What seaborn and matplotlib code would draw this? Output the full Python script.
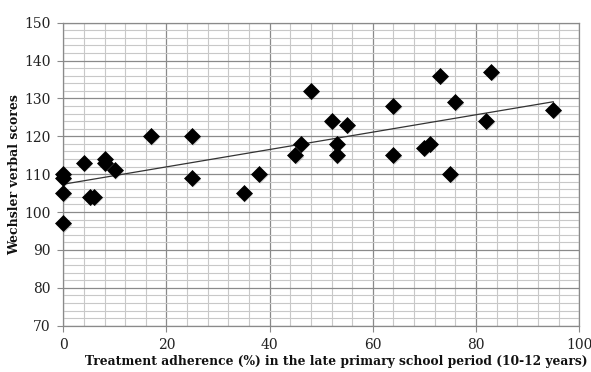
import matplotlib
matplotlib.use("Agg")
import matplotlib.pyplot as plt
import seaborn as sns
import numpy as np
import pandas as pd
from matplotlib.ticker import MultipleLocator

adherence = [0, 0, 0, 0, 4, 5.2, 6, 8, 8, 10, 17, 25, 25, 35, 38, 45, 46, 48, 52,
             53, 53, 55, 64, 64, 70, 71, 73, 75, 76, 82, 83, 95]
verbal = [110, 109, 105, 97, 113, 104, 104, 114, 113, 111, 120, 120, 109, 105, 110,
          115, 118, 132, 124, 118, 115, 123, 128, 115, 117, 118, 136, 110, 129, 124,
          137, 127]
x_ticks = [0, 20, 40, 60, 80, 100]
y_ticks = [70, 80, 90, 100, 110, 120, 130, 140, 150]

df = pd.DataFrame({"x": adherence, "y": verbal})

sns.set_style("white")
fig = plt.figure(figsize=(5.91, 3.72), dpi=100)
ax = fig.add_axes([0.107, 0.1245, 0.873, 0.8145])

ax.set_xlim(0, 100)
ax.set_ylim(70, 150)
ax.xaxis.set_minor_locator(MultipleLocator(4))
ax.yaxis.set_minor_locator(MultipleLocator(2))
ax.set_xticks(x_ticks)
ax.set_yticks(y_ticks)
ax.grid(which="minor", color="#c8c8c8", linewidth=0.8)
ax.grid(which="major", color="#8a8a8a", linewidth=0.9)
ax.set_axisbelow(True)

sns.regplot(data=df, x="x", y="y", scatter=False, ci=None, ax=ax,
            line_kws=dict(color="#333333", linewidth=0.9), truncate=True)
shadow = ax.transData + matplotlib.transforms.ScaledTranslation(1/100, -1.5/100, fig.dpi_scale_trans)
sns.scatterplot(data=df, x="x", y="y", marker="D", s=66, color="#9a9a9a",
                edgecolor="none", ax=ax, alpha=0.5, transform=shadow, clip_on=False)
sns.scatterplot(data=df, x="x", y="y", marker="D", s=66, color="black",
                edgecolor="black", linewidth=0.5, ax=ax, zorder=5, clip_on=False)

ax.set_xlim(0, 100)
ax.set_ylim(70, 150)

for s in ax.spines.values():
    s.set_color("#8a8a8a")
    s.set_linewidth(0.9)

ax.tick_params(which="major", direction="out", length=4, color="#8a8a8a",
               labelsize=10, labelcolor="#222222", bottom=True, left=True, pad=5)
ax.tick_params(which="minor", length=0)
for lab in ax.get_xticklabels() + ax.get_yticklabels():
    lab.set_family("DejaVu Serif")

ax.set_xlabel("Treatment adherence (%) in the late primary school period (10-12 years)",
              family="DejaVu Serif", fontweight="bold", fontsize=8.8, color="#111111")
ax.xaxis.set_label_coords(0.53, -0.098)
ax.set_ylabel("Wechsler verbal scores", family="DejaVu Serif", fontweight="bold",
              fontsize=9, color="#111111", labelpad=2)

fig.savefig("out.png", dpi=100)
